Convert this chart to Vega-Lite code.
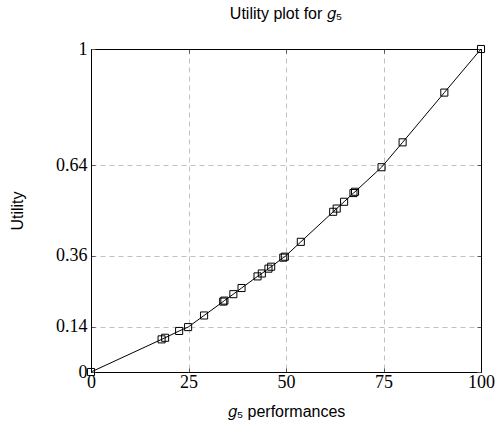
{
  "$schema": "https://vega.github.io/schema/vega-lite/v6.json",
  "autosize": {"type": "none"},
  "padding": {"left": 91, "top": 49, "right": 16, "bottom": 60},
  "width": 390,
  "height": 323,
  "background": "white",
  "title": {"text": "Utility plot for 𝑔₅", "font": "Liberation Sans", "fontSize": 16, "fontWeight": "normal", "color": "black", "offset": 18},
  "config": {
    "view": {"stroke": "black", "strokeWidth": 1},
    "axis": {"domain": true, "domainColor": "black", "domainWidth": 1, "labelFlush": false, "labelFont": "Liberation Serif", "labelFontSize": 18, "labelColor": "black", "titleFont": "Liberation Sans", "titleFontSize": 16, "titleFontWeight": "normal", "titleColor": "black", "tickColor": "#555", "gridColor": "#c0c0c0", "gridDash": [5, 4], "gridWidth": 1}
  },
  "data": {"values": [
    {"x": 0, "u": 0},
    {"x": 18.1, "u": 0.101},
    {"x": 19.0, "u": 0.106},
    {"x": 22.6, "u": 0.127},
    {"x": 24.9, "u": 0.139},
    {"x": 29.0, "u": 0.175},
    {"x": 33.9, "u": 0.218},
    {"x": 34.2, "u": 0.221},
    {"x": 36.5, "u": 0.241},
    {"x": 38.6, "u": 0.26},
    {"x": 42.7, "u": 0.296},
    {"x": 43.8, "u": 0.305},
    {"x": 45.5, "u": 0.32},
    {"x": 46.2, "u": 0.326},
    {"x": 49.3, "u": 0.354},
    {"x": 49.7, "u": 0.357},
    {"x": 53.8, "u": 0.403},
    {"x": 62.1, "u": 0.496},
    {"x": 63.0, "u": 0.506},
    {"x": 64.9, "u": 0.527},
    {"x": 67.3, "u": 0.554},
    {"x": 67.7, "u": 0.558},
    {"x": 74.5, "u": 0.634},
    {"x": 79.9, "u": 0.711},
    {"x": 90.6, "u": 0.865},
    {"x": 100, "u": 1}
  ]},
  "layer": [
    {
      "mark": {"type": "line", "color": "black", "strokeWidth": 1},
      "encoding": {
        "x": {"field": "x", "type": "quantitative", "scale": {"domain": [0, 100], "nice": false, "zero": false},
              "axis": {"orient": "bottom", "values": [0, 25, 50, 75, 100], "title": "𝑔₅ performances", "grid": true, "tickSize": -4, "labelPadding": 5, "titlePadding": 12}},
        "y": {"field": "u", "type": "quantitative", "scale": {"domain": [0, 1], "nice": false, "zero": false},
              "axis": {"orient": "left", "values": [0, 0.14, 0.36, 0.64, 1], "format": ".2~f", "title": "Utility", "grid": true, "tickSize": -4, "labelPadding": 8, "titlePadding": 30}}
      }
    },
    {
      "mark": {"type": "point", "shape": "square", "filled": false, "stroke": "black", "strokeWidth": 1, "size": 50, "opacity": 1},
      "encoding": {
        "x": {"field": "x", "type": "quantitative", "axis": {"orient": "top", "values": [0, 25, 50, 75, 100], "labels": false, "title": null, "grid": false, "tickSize": -4}},
        "y": {"field": "u", "type": "quantitative", "axis": {"orient": "right", "values": [0, 0.14, 0.36, 0.64, 1], "labels": false, "title": null, "grid": false, "tickSize": -4}}
      }
    }
  ],
  "resolve": {"axis": {"x": "independent", "y": "independent"}}
}
